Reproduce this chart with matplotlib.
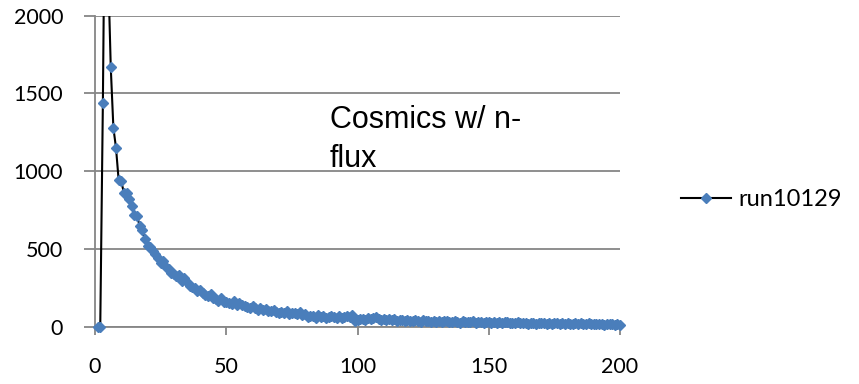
import matplotlib
matplotlib.use("Agg")
import matplotlib.pyplot as plt
from matplotlib.transforms import Bbox, TransformedBbox

# Channel numbers and counts for run10129
channels = list(range(1, 201))
counts = [
    0, 0, 1440, 3300, 2300, 1670, 1280, 1150, 945, 935,
    862, 858, 821, 778, 718, 715, 648, 622, 562, 519,
    510, 489, 468, 440, 408, 425, 386, 370, 348, 337,
    326, 333, 296, 311, 285, 262, 258, 249, 228, 236,
    214, 205, 199, 210, 183, 177, 168, 185, 160, 158,
    152, 147, 165, 138, 150, 142, 130, 129, 122, 135,
    118, 110, 121, 106, 112, 104, 98, 108, 94, 90,
    96, 88, 102, 84, 91, 86, 79, 92, 76, 82,
    64, 70, 66, 58, 74, 62, 68, 55, 60, 69,
    61, 53, 66, 58, 62, 70, 64, 75, 39, 44,
    48, 52, 46, 57, 50, 54, 64, 49, 45, 52,
    43, 47, 40, 50, 38, 44, 41, 36, 45, 39,
    34, 42, 37, 32, 40, 35, 38, 31, 36, 33,
    39, 30, 35, 37, 32, 29, 36, 31, 27, 34,
    30, 33, 28, 35, 26, 31, 29, 24, 32, 28,
    26, 30, 25, 29, 23, 28, 31, 22, 27, 24,
    29, 21, 26, 24, 20, 27, 23, 19, 25, 22,
    24, 20, 26, 18, 23, 21, 19, 24, 17, 22,
    20, 18, 23, 16, 21, 19, 17, 22, 15, 20,
    18, 16, 19, 14, 18, 15, 17, 13, 16, 14,
]
series_name = "run10129"
x_ticks = [0, 50, 100, 150, 200]
y_ticks = [0, 500, 1000, 1500, 2000]
annotation = "Cosmics w/ n-\nflux"

W, H = 859, 384
fig = plt.figure(figsize=(W / 100, H / 100), dpi=100)
left, right, top, bottom = 95, 620, 15.7, 326.7
ax = fig.add_axes([left / W, 1 - bottom / H, (right - left) / W, (bottom - top) / H])

grid_c = "#868686"
tick_font = dict(family="Lato", size=15.5)

line, = ax.plot(channels, counts, color="black", lw=1.5,
                marker="D", markersize=5.2, markerfacecolor="#4A7EBB",
                markeredgecolor="#4A7EBB", label=series_name, zorder=3)
# let markers sitting on the zero line show in full while clipping the peak
line.set_clip_box(TransformedBbox(Bbox([[-0.02, -0.05], [1.02, 1.0]]), ax.transAxes))

ax.set_xlim(0, 200)
ax.set_ylim(0, 2000)
ax.set_xticks(x_ticks)
ax.set_yticks(y_ticks)
ax.set_xticklabels([str(v) for v in x_ticks], fontdict=tick_font)
ax.set_yticklabels([str(v) for v in y_ticks], fontdict=tick_font)

for s in ("top", "right"):
    ax.spines[s].set_visible(False)
for s in ("left", "bottom"):
    ax.spines[s].set_color(grid_c)
    ax.spines[s].set_linewidth(1.3)

ax.yaxis.grid(True, color=grid_c, lw=1.3)
ax.set_axisbelow(True)
ax.tick_params(axis="x", direction="out", length=6, width=1.3, color=grid_c, pad=16)
ax.tick_params(axis="y", direction="out", length=8, width=1.3, color=grid_c, pad=15)

ax.text(330 / W, 1 - 166.7 / H, annotation, transform=fig.transFigure,
        family="Liberation Sans", fontsize=22, va="baseline", ha="left",
        linespacing=1.4)

fig.legend(handles=[line], loc="center left", bbox_to_anchor=(681 / W, 1 - 200 / H),
           frameon=False, prop=dict(family="Lato", size=17),
           handlelength=2.1, handletextpad=0.35, borderpad=0, borderaxespad=0)

fig.savefig("out.png", dpi=100)
